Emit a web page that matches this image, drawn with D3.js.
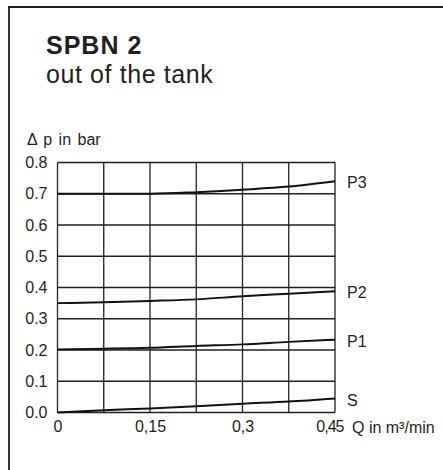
<!DOCTYPE html>
<html>
<head>
<meta charset="utf-8">
<script src="https://cdn.jsdelivr.net/npm/d3@7"></script>
<style>
  html, body { margin: 0; padding: 0; background: #fff; }
  svg { display: block; }
  text { font-family: "Liberation Sans", Arial, Helvetica, sans-serif; fill: #231f20; }
</style>
</head>
<body>
<svg id="chart" width="443" height="470"></svg>
<script>
// Flow rate Q (m³/min) sample points
const flowQ = [0, 0.075, 0.15, 0.225, 0.3, 0.375, 0.45];

// Pressure drop Δp (bar) per curve
const seriesNames = ["P3", "P2", "P1", "S"];
const p3Values = [0.700, 0.700, 0.700, 0.705, 0.713, 0.723, 0.740];
const p2Values = [0.350, 0.353, 0.357, 0.362, 0.372, 0.380, 0.388];
const p1Values = [0.202, 0.204, 0.207, 0.213, 0.218, 0.226, 0.233];
const sValues  = [0.000, 0.007, 0.013, 0.020, 0.028, 0.035, 0.045];

// Axis ticks
const xTickValues = [0, 0.15, 0.3, 0.45];
const xTickLabels = ["0", "0,15", "0,3", "0,45"];
const xGridValues = [0, 0.075, 0.15, 0.225, 0.3, 0.375, 0.45];
const yTickValues = [0, 0.1, 0.2, 0.3, 0.4, 0.5, 0.6, 0.7, 0.8];

const series = [
  { name: seriesNames[0], values: p3Values },
  { name: seriesNames[1], values: p2Values },
  { name: seriesNames[2], values: p1Values },
  { name: seriesNames[3], values: sValues }
];

const svg = d3.select("#chart");
const ink = "#231f20";

// Panel frame (top and left edges)
svg.append("path")
  .attr("d", "M9,470 L9,7 L443,7")
  .attr("fill", "none")
  .attr("stroke", ink)
  .attr("stroke-width", 1.8);

// Heading
svg.append("text").attr("x", 46).attr("y", 54)
  .attr("font-size", 25).attr("font-weight", "bold")
  .attr("letter-spacing", 1)
  .text("SPBN 2");
svg.append("text").attr("x", 46).attr("y", 83)
  .attr("font-size", 25)
  .attr("letter-spacing", 0.6)
  .text("out of the tank");

const plot = { left: 57.5, right: 335, top: 162.5, bottom: 412.5 };

const x = d3.scaleLinear().domain([0, 0.45]).range([plot.left, plot.right]);
const y = d3.scaleLinear().domain([0, 0.8]).range([plot.bottom, plot.top]);

const g = svg.append("g");

// Grid
g.selectAll("line.vgrid").data(xGridValues).join("line")
  .attr("class", "vgrid")
  .attr("x1", d => x(d)).attr("x2", d => x(d))
  .attr("y1", plot.top).attr("y2", plot.bottom)
  .attr("stroke", ink).attr("stroke-width", 1.3);
g.selectAll("line.hgrid").data(yTickValues).join("line")
  .attr("class", "hgrid")
  .attr("y1", d => y(d)).attr("y2", d => y(d))
  .attr("x1", plot.left).attr("x2", plot.right)
  .attr("stroke", ink).attr("stroke-width", 1.3);

// Y axis labels
const yAxis = d3.axisLeft(y).tickValues(yTickValues).tickSize(0).tickPadding(10)
  .tickFormat(d3.format(".1f"));
const yG = svg.append("g").attr("transform", `translate(${plot.left},0)`).call(yAxis);
yG.select(".domain").remove();
yG.selectAll("text").attr("font-size", 16).attr("font-family", null).attr("fill", ink);

// X axis labels
const xAxis = d3.axisBottom(x).tickValues(xTickValues).tickSize(0).tickPadding(8)
  .tickFormat((d, i) => xTickLabels[i]);
const xG = svg.append("g").attr("transform", `translate(0,${plot.bottom})`).call(xAxis);
xG.select(".domain").remove();
xG.selectAll("text").attr("font-size", 16).attr("font-family", null).attr("fill", ink);
// last tick label sits just left of the axis title
xG.selectAll(".tick").filter(d => d === 0.45).select("text")
  .attr("text-anchor", "end").attr("x", 8).attr("letter-spacing", -1);

// Axis titles
svg.append("text").attr("x", 27).attr("y", 145).attr("font-size", 16)
  .attr("word-spacing", 2)
  .text("\u0394 p in bar");
svg.append("text").attr("x", 352).attr("y", 433).attr("font-size", 16)
  .text("Q in m\u00B3/min");

// Curves
const line = d3.line()
  .x((d, i) => x(flowQ[i]))
  .y(d => y(d))
  .curve(d3.curveMonotoneX);

g.selectAll("path.curve").data(series).join("path")
  .attr("class", "curve")
  .attr("d", d => line(d.values))
  .attr("fill", "none")
  .attr("stroke", "#111")
  .attr("stroke-width", 2);

// Curve labels
svg.selectAll("text.curve-label").data(series).join("text")
  .attr("class", "curve-label")
  .attr("x", 347)
  .attr("y", d => y(d.values[d.values.length - 1]) + 1.5)
  .attr("dy", "0.35em")
  .attr("font-size", 16)
  .text(d => d.name);
</script>
</body>
</html>
